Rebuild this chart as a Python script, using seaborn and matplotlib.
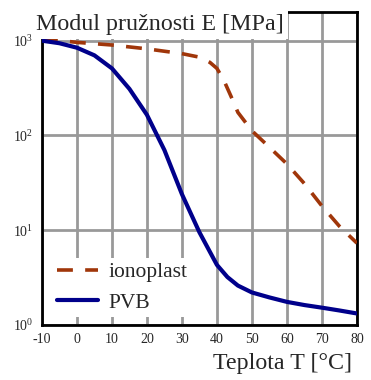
import seaborn as sns
import matplotlib.pyplot as plt
from matplotlib.ticker import FixedLocator, NullLocator

# Data (temperature in degC, modulus in MPa)
temp_pvb = [-10, -5, 0, 5, 10, 15, 20, 25, 30, 35, 40, 43, 46, 50, 55, 60, 65, 70, 75, 80]
modulus_pvb = [1000, 940, 843, 700, 510, 310, 165, 70, 24, 9.5, 4.3, 3.2, 2.6, 2.2, 1.95, 1.75, 1.62, 1.52, 1.42, 1.32]

temp_iono = [-10, 0, 10, 20, 30, 35, 38, 40, 42, 44, 46, 48, 50, 55, 60, 65, 70, 75, 80]
modulus_iono = [1050, 960, 900, 820, 730, 670, 590, 510, 380, 260, 175, 140, 112, 75, 50, 31, 18, 11, 7.3]

x_ticks = [-10, 0, 10, 20, 30, 40, 50, 60, 70, 80]
y_ticks = [1, 10, 100, 1000]

sns.set_style('white')
plt.rcParams['font.family'] = ['Liberation Serif', 'DejaVu Serif']
plt.rcParams['mathtext.fontset'] = 'stix'
plt.rcParams['axes.unicode_minus'] = False

fig = plt.figure(figsize=(3.71, 3.80), dpi=100)
ax = fig.add_axes([0.113, 0.145, 0.849, 0.823])

sns.lineplot(x=temp_iono, y=modulus_iono, color='#a0360a', linewidth=2.6,
             dashes=False, label='ionoplast', ax=ax, zorder=3)
sns.lineplot(x=temp_pvb, y=modulus_pvb, color='#00008b', linewidth=3,
             label='PVB', ax=ax, zorder=3)
ax.lines[0].set_dashes((4.4, 3.4))

ax.set_yscale('log')
ax.set_xlim(-10, 80)
ax.set_ylim(1, 2000)
ax.xaxis.set_major_locator(FixedLocator(x_ticks))
ax.yaxis.set_major_locator(FixedLocator(y_ticks))
ax.yaxis.set_minor_locator(NullLocator())
ax.grid(True, color='#999999', linewidth=2)
ax.tick_params(axis='both', which='major', length=4, width=2, color='#999999',
               labelsize=10, pad=2)
for s in ax.spines.values():
    s.set_color('black')
    s.set_linewidth(2)

ax.text(-0.02, 0.962, 'Modul pružnosti E [MPa]', transform=ax.transAxes,
        fontsize=17.3, va='center', ha='left', zorder=10, clip_on=False,
        bbox=dict(facecolor='white', edgecolor='none', pad=3.5))
fig.text(0.95, 0.015, 'Teplota T [°C]', fontsize=17.3, ha='right', va='bottom')

leg = ax.legend(loc='lower left', bbox_to_anchor=(0.0, -0.01), fontsize=15.5,
                handlelength=1.9, frameon=True, fancybox=False,
                borderpad=0.2, labelspacing=0.5, handletextpad=0.5)
leg.get_frame().set_facecolor('white')
leg.get_frame().set_edgecolor('none')
leg.get_frame().set_alpha(1)

fig.savefig('out.png', dpi=100)
